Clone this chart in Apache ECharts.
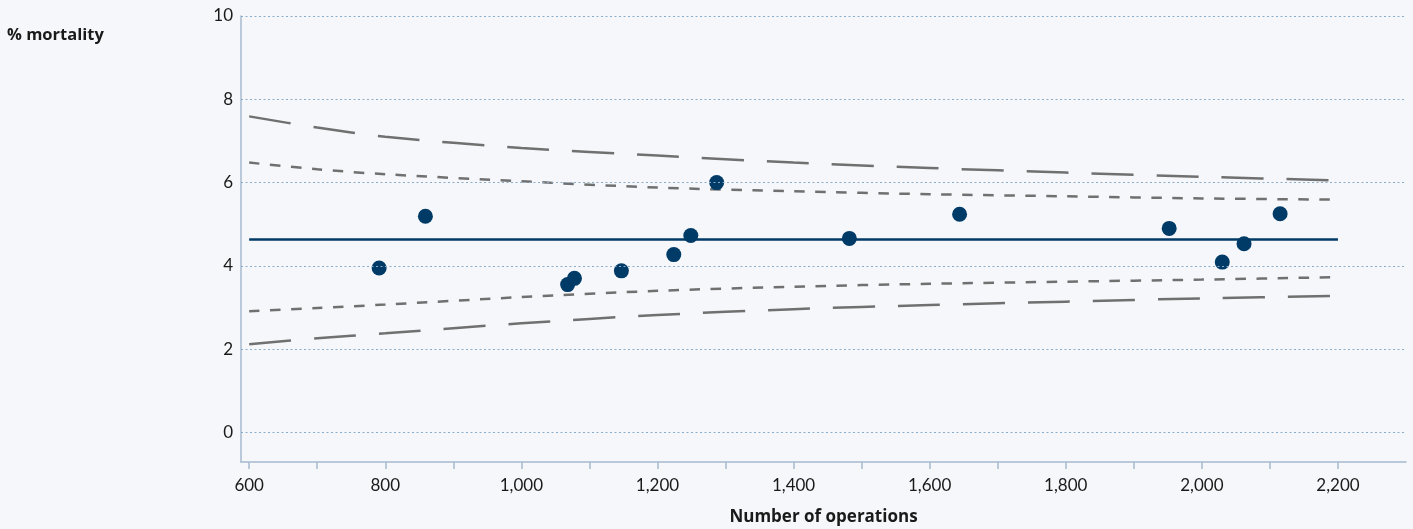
<!DOCTYPE html>
<html>
<head>
<meta charset="utf-8">
<style>
  html, body { margin: 0; padding: 0; background: #f5f7fa; }
  #chart { width: 1413px; height: 529px; }
</style>
<script src="https://cdn.jsdelivr.net/npm/echarts@6/dist/echarts.min.js"></script>
</head>
<body>
<div id="chart"></div>
<script>
// ---- data ----
const operations = [791, 859, 1068, 1078, 1147, 1224, 1249, 1287, 1482, 1644, 1952, 2030, 2062, 2115];
const mortality  = [3.95, 5.19, 3.55, 3.70, 3.88, 4.27, 4.73, 6.00, 4.66, 5.24, 4.90, 4.09, 4.53, 5.25];
const meanRate = 4.63;
const limitN      = [600, 700, 800, 1000, 1200, 1400, 1600, 1800, 2000, 2200];
const upperOuter  = [7.59, 7.32, 7.10, 6.83, 6.65, 6.48, 6.35, 6.24, 6.14, 6.05];
const upperInner  = [6.48, 6.32, 6.20, 6.03, 5.88, 5.79, 5.72, 5.67, 5.62, 5.59];
const lowerInner  = [2.91, 2.99, 3.07, 3.25, 3.40, 3.50, 3.57, 3.62, 3.67, 3.73];
const lowerOuter  = [2.12, 2.26, 2.38, 2.62, 2.82, 2.96, 3.06, 3.14, 3.22, 3.28];
const xLabels = [600, 800, 1000, 1200, 1400, 1600, 1800, 2000, 2200];
const xTicks  = [600, 700, 800, 900, 1000, 1100, 1200, 1300, 1400, 1500, 1600, 1700, 1800, 1900, 2000, 2100, 2200];
const yLabels = [0, 2, 4, 6, 8, 10];

const FONT = 'Lato, "Open Sans", sans-serif';
const BOLD_FONT = '"Open Sans", Lato, sans-serif';
const pair = (xs, ys) => xs.map((x, i) => [x, ys[i]]);

const chart = echarts.init(document.getElementById('chart'), null, { renderer: 'canvas' });

const dashLine = (name, ys, dash) => ({
  name, type: 'line', data: pair(limitN, ys), smooth: 0.3,
  showSymbol: false, symbol: 'none', silent: true, z: 2,
  lineStyle: { color: '#707070', width: 2.5, type: dash }
});

chart.setOption({
  backgroundColor: '#f5f7fa',
  animation: false,
  title: {
    text: '% mortality', left: 2, top: 22,
    textStyle: { fontFamily: BOLD_FONT, fontSize: 16.5, fontWeight: 'bold', color: '#1a1a1a' }
  },
  grid: { left: 241, right: 7, top: 16, bottom: 67, containLabel: false, outerBoundsMode: 'none' },
  xAxis: {
    type: 'value', min: 588, max: 2300,
    name: 'Number of operations', nameLocation: 'middle', nameGap: 47,
    nameTextStyle: { fontFamily: BOLD_FONT, fontSize: 17, fontWeight: 'bold', color: '#1a1a1a' },
    axisLine: { show: true, onZero: false, lineStyle: { color: '#a7bbcf', width: 1.5 } },
    axisTick: { show: true, customValues: xTicks, length: 7, lineStyle: { color: '#a7bbcf', width: 1.5 } },
    axisLabel: {
      customValues: xLabels, margin: 15, fontFamily: FONT, fontSize: 17, color: '#1a1a1a',
      formatter: v => Number(v).toLocaleString('en-US')
    },
    splitLine: { show: false }
  },
  yAxis: {
    type: 'value', min: -0.71, max: 10,
    axisLine: { show: true, onZero: false, lineStyle: { color: '#a7bbcf', width: 1.5 } },
    axisTick: { show: false },
    axisLabel: { customValues: yLabels, margin: 8, fontFamily: FONT, fontSize: 17, color: '#1a1a1a' },
    splitLine: { show: false }
  },
  series: [
    {
      name: 'grid', type: 'line', data: [], silent: true, z: 1,
      markLine: {
        silent: true, symbol: 'none', label: { show: false }, animation: false,
        lineStyle: { color: '#8aaccb', width: 1, type: [2, 2.5] },
        data: yLabels.map(v => ({ yAxis: v }))
      }
    },
    dashLine('upperOuter', upperOuter, [42, 23]),
    dashLine('lowerOuter', lowerOuter, [42, 23]),
    dashLine('upperInner', upperInner, [10.5, 10.5]),
    dashLine('lowerInner', lowerInner, [10.5, 10.5]),
    {
      name: 'mean', type: 'line', data: [[600, meanRate], [2200, meanRate]],
      showSymbol: false, symbol: 'none', silent: true, z: 3,
      lineStyle: { color: '#003a66', width: 2.5, type: 'solid' }
    },
    {
      name: 'hospitals', type: 'scatter', data: pair(operations, mortality),
      symbol: 'circle', symbolSize: 15, z: 4,
      itemStyle: { color: '#003a66', opacity: 1 }
    }
  ]
});
</script>
</body>
</html>
